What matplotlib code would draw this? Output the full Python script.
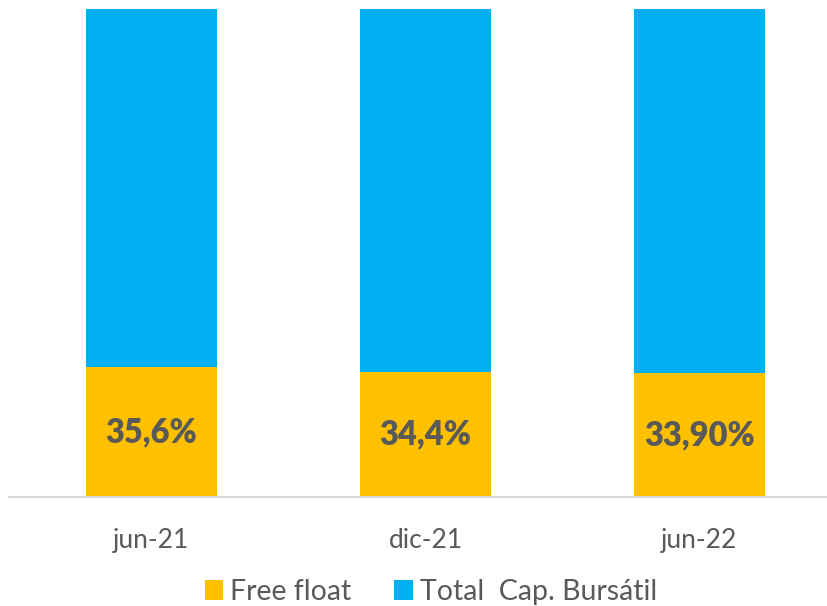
import matplotlib.pyplot as plt
import numpy as np

categories = ['jun-21', 'dic-21', 'jun-22']
free_float = [35.6, 34.4, 33.9]
total_cap = [100, 100, 100]
labels = ['35,6%', '34,4%', '33,90%']

YELLOW = '#FFC000'
BLUE = '#00B0F0'
GREY = '#595959'

plt.rcParams['font.family'] = ['Lato', 'DejaVu Sans']

fig = plt.figure(figsize=(8.27, 6.06), dpi=100)
ax = fig.add_axes([9 / 827, 1 - 497 / 606, 1 - 9 / 827, 488 / 606])

x = np.arange(len(categories))
w = 0.478
ax.bar(x, free_float, w, color=YELLOW, label='Free float')
ax.bar(x, total_cap, w, bottom=free_float, color=BLUE, label='Total  Cap. Bursátil')

for xi, v, t in zip(x, free_float, labels):
    ax.text(xi, v / 2, t, ha='center', va='center', fontsize=23.5,
            fontweight='heavy', color=GREY)

ax.set_xlim(-0.52, 2.465)
ax.set_ylim(0, 133.8)
ax.set_yticks([])
ax.set_xticks(x)
ax.set_xticklabels(categories, fontsize=19, color=GREY)
ax.tick_params(axis='x', length=0, pad=22)
for s in ['top', 'right', 'left']:
    ax.spines[s].set_visible(False)
ax.spines['bottom'].set_color('#D9D9D9')
ax.spines['bottom'].set_linewidth(1.5)

fig.legend(loc='center', bbox_to_anchor=(431 / 827, 1 - 592 / 606), ncol=2,
           frameon=False, fontsize=20.5, labelcolor=GREY, handlelength=0.65,
           handleheight=0.65, handletextpad=0.25, columnspacing=1.5)

fig.savefig('out.png', dpi=100)
